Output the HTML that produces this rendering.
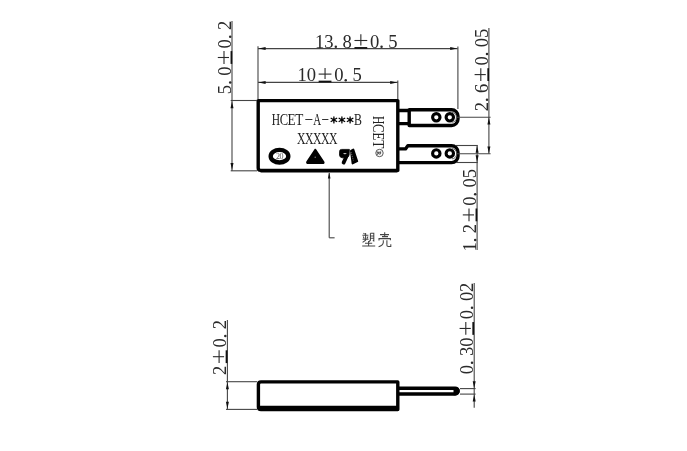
<!DOCTYPE html>
<html><head><meta charset="utf-8"><style>
html,body{margin:0;padding:0;background:#fff;width:687px;height:451px;overflow:hidden}
svg{display:block}
text{font-family:"Liberation Serif",serif}
</style></head><body>
<svg width="687" height="451" viewBox="0 0 687 451">
<rect width="687" height="451" fill="#fff"/>
<g opacity="0.999">
<path d="M258.2,103 V168 Q258.2,170.4 260.6,170.4 H397.8 V100.6 H258.2 Z" fill="none" stroke="#000" stroke-width="3.4" stroke-linejoin="round"/>
<path d="M260.5,171.5 H397.5" stroke="#000" stroke-width="2.2"/>
<path d="M399,110.5 H408 M399,123.6 H408" stroke="#000" stroke-width="3.3"/>
<path d="M409.2,109.75 H451.6 A6.4,6.4 0 0 1 458,116.15 V119.1 A6.4,6.4 0 0 1 451.6,125.5 H409.2 Z" fill="none" stroke="#000" stroke-width="3.4" stroke-linejoin="round"/>
<path d="M399,148.9 H405.5 L407.8,145.75 H451.6 A6.4,6.4 0 0 1 458,152.15 V156.25 A6.4,6.4 0 0 1 451.6,162.65 H399" fill="none" stroke="#000" stroke-width="3.4" stroke-linejoin="round"/>
<circle cx="436.3" cy="117.3" r="3.7" fill="none" stroke="#000" stroke-width="3.1"/>
<circle cx="449.8" cy="117.3" r="3.7" fill="none" stroke="#000" stroke-width="3.1"/>
<circle cx="436.3" cy="153.4" r="3.7" fill="none" stroke="#000" stroke-width="3.1"/>
<circle cx="449.8" cy="153.4" r="3.7" fill="none" stroke="#000" stroke-width="3.1"/>
<path d="M452,112.4 A4.4,4.4 0 0 1 456.4,116.8 V117.8 A4.4,4.4 0 0 1 452,122.2" fill="none" stroke="#555" stroke-width="0.9"/>
<path d="M452,148.6 A4.6,4.6 0 0 1 456.6,153.2 V154.2 A4.6,4.6 0 0 1 452,158.8" fill="none" stroke="#555" stroke-width="0.9"/>
<line x1="232" y1="21" x2="232" y2="171" stroke="#444" stroke-width="1.1"/>
<line x1="230.7" y1="100.5" x2="257" y2="100.5" stroke="#444" stroke-width="1.1"/>
<line x1="230.7" y1="170.8" x2="257" y2="170.8" stroke="#444" stroke-width="1.1"/>
<polygon points="232.00,101.30 230.50,108.30 233.50,108.30" fill="#111"/>
<polygon points="232.00,170.00 230.50,163.00 233.50,163.00" fill="#111"/>
<g transform="translate(231.2,94.1) rotate(-90)" font-size="18.6" fill="#2a2a2a"><text transform="translate(4.58,0) scale(1.0,1)" x="0" y="0" text-anchor="middle">5</text><circle cx="11.55" cy="-1.0" r="1.25" fill="#2a2a2a"/><text transform="translate(22.88,0) scale(1.0,1)" x="0" y="0" text-anchor="middle">0</text><line x1="30.200000000000003" y1="-7.2" x2="43.0" y2="-7.2" stroke="#2a2a2a" stroke-width="1.1"/><line x1="36.6" y1="-13.4" x2="36.6" y2="-2.2" stroke="#2a2a2a" stroke-width="1.1"/><line x1="30.200000000000003" y1="0.2" x2="43.0" y2="0.2" stroke="#111" stroke-width="1.7"/><text transform="translate(50.33,0) scale(1.0,1)" x="0" y="0" text-anchor="middle">0</text><circle cx="57.30" cy="-1.0" r="1.25" fill="#2a2a2a"/><text transform="translate(68.62,0) scale(1.0,1)" x="0" y="0" text-anchor="middle">2</text></g>
<line x1="258" y1="48.6" x2="457.7" y2="48.6" stroke="#444" stroke-width="1.1"/>
<line x1="258" y1="46.2" x2="258" y2="99" stroke="#444" stroke-width="1.1"/>
<line x1="457.9" y1="46.6" x2="457.9" y2="109" stroke="#444" stroke-width="1.1"/>
<polygon points="258.60,48.60 265.60,47.10 265.60,50.10" fill="#111"/>
<polygon points="457.20,48.60 450.20,47.10 450.20,50.10" fill="#111"/>
<g transform="translate(315.1,47.7)" font-size="18.6" fill="#2a2a2a"><text transform="translate(4.58,0) scale(1.0,1)" x="0" y="0" text-anchor="middle">1</text><text transform="translate(13.73,0) scale(1.0,1)" x="0" y="0" text-anchor="middle">3</text><circle cx="20.70" cy="-1.0" r="1.25" fill="#2a2a2a"/><text transform="translate(32.02,0) scale(1.0,1)" x="0" y="0" text-anchor="middle">8</text><line x1="39.35" y1="-7.2" x2="52.15" y2="-7.2" stroke="#2a2a2a" stroke-width="1.1"/><line x1="45.75" y1="-13.4" x2="45.75" y2="-2.2" stroke="#2a2a2a" stroke-width="1.1"/><line x1="39.35" y1="0.2" x2="52.15" y2="0.2" stroke="#111" stroke-width="1.7"/><text transform="translate(59.48,0) scale(1.0,1)" x="0" y="0" text-anchor="middle">0</text><circle cx="66.45" cy="-1.0" r="1.25" fill="#2a2a2a"/><text transform="translate(77.78,0) scale(1.0,1)" x="0" y="0" text-anchor="middle">5</text></g>
<line x1="258" y1="82.4" x2="397.8" y2="82.4" stroke="#444" stroke-width="1.1"/>
<line x1="397.8" y1="80.5" x2="397.8" y2="99" stroke="#444" stroke-width="1.1"/>
<polygon points="258.60,82.40 265.60,80.90 265.60,83.90" fill="#111"/>
<polygon points="397.20,82.40 390.20,80.90 390.20,83.90" fill="#111"/>
<g transform="translate(297.6,81.3)" font-size="18.6" fill="#2a2a2a"><text transform="translate(4.58,0) scale(1.0,1)" x="0" y="0" text-anchor="middle">1</text><text transform="translate(13.73,0) scale(1.0,1)" x="0" y="0" text-anchor="middle">0</text><line x1="21.050000000000004" y1="-7.2" x2="33.85" y2="-7.2" stroke="#2a2a2a" stroke-width="1.1"/><line x1="27.450000000000003" y1="-13.4" x2="27.450000000000003" y2="-2.2" stroke="#2a2a2a" stroke-width="1.1"/><line x1="21.050000000000004" y1="0.2" x2="33.85" y2="0.2" stroke="#111" stroke-width="1.7"/><text transform="translate(41.18,0) scale(1.0,1)" x="0" y="0" text-anchor="middle">0</text><circle cx="48.15" cy="-1.0" r="1.25" fill="#2a2a2a"/><text transform="translate(59.48,0) scale(1.0,1)" x="0" y="0" text-anchor="middle">5</text></g>
<line x1="457" y1="117.2" x2="490.6" y2="117.2" stroke="#444" stroke-width="1.1"/>
<line x1="457" y1="153.8" x2="490.6" y2="153.8" stroke="#444" stroke-width="1.1"/>
<line x1="456" y1="145.5" x2="477.8" y2="145.5" stroke="#444" stroke-width="1.1"/>
<line x1="456" y1="162.5" x2="477.8" y2="162.5" stroke="#444" stroke-width="1.1"/>
<line x1="488.9" y1="28" x2="488.9" y2="153.8" stroke="#444" stroke-width="1.1"/>
<polygon points="488.90,117.60 487.40,124.60 490.40,124.60" fill="#111"/>
<polygon points="488.90,153.40 487.40,146.40 490.40,146.40" fill="#111"/>
<g transform="translate(488.0,111.2) rotate(-90)" font-size="18.6" fill="#2a2a2a"><text transform="translate(4.58,0) scale(1.0,1)" x="0" y="0" text-anchor="middle">2</text><circle cx="11.55" cy="-1.0" r="1.25" fill="#2a2a2a"/><text transform="translate(22.88,0) scale(1.0,1)" x="0" y="0" text-anchor="middle">6</text><line x1="30.200000000000003" y1="-7.2" x2="43.0" y2="-7.2" stroke="#2a2a2a" stroke-width="1.1"/><line x1="36.6" y1="-13.4" x2="36.6" y2="-2.2" stroke="#2a2a2a" stroke-width="1.1"/><line x1="30.200000000000003" y1="0.2" x2="43.0" y2="0.2" stroke="#111" stroke-width="1.7"/><text transform="translate(50.33,0) scale(1.0,1)" x="0" y="0" text-anchor="middle">0</text><circle cx="57.30" cy="-1.0" r="1.25" fill="#2a2a2a"/><text transform="translate(68.62,0) scale(1.0,1)" x="0" y="0" text-anchor="middle">0</text><text transform="translate(77.78,0) scale(1.0,1)" x="0" y="0" text-anchor="middle">5</text></g>
<line x1="477.1" y1="145.5" x2="477.1" y2="250" stroke="#444" stroke-width="1.1"/>
<polygon points="477.10,145.80 475.60,152.80 478.60,152.80" fill="#111"/>
<polygon points="477.10,162.30 475.60,155.30 478.60,155.30" fill="#111"/>
<g transform="translate(476.2,251.5) rotate(-90)" font-size="18.6" fill="#2a2a2a"><text transform="translate(4.58,0) scale(1.0,1)" x="0" y="0" text-anchor="middle">1</text><circle cx="11.55" cy="-1.0" r="1.25" fill="#2a2a2a"/><text transform="translate(22.88,0) scale(1.0,1)" x="0" y="0" text-anchor="middle">2</text><line x1="30.200000000000003" y1="-7.2" x2="43.0" y2="-7.2" stroke="#2a2a2a" stroke-width="1.1"/><line x1="36.6" y1="-13.4" x2="36.6" y2="-2.2" stroke="#2a2a2a" stroke-width="1.1"/><line x1="30.200000000000003" y1="0.2" x2="43.0" y2="0.2" stroke="#111" stroke-width="1.7"/><text transform="translate(50.33,0) scale(1.0,1)" x="0" y="0" text-anchor="middle">0</text><circle cx="57.30" cy="-1.0" r="1.25" fill="#2a2a2a"/><text transform="translate(68.62,0) scale(1.0,1)" x="0" y="0" text-anchor="middle">0</text><text transform="translate(77.78,0) scale(1.0,1)" x="0" y="0" text-anchor="middle">5</text></g>
<line x1="329.2" y1="173" x2="329.2" y2="237.8" stroke="#444" stroke-width="1.1"/>
<line x1="329.2" y1="237.8" x2="334.6" y2="237.8" stroke="#444" stroke-width="1.1"/>
<polygon points="329.20,172.60 327.90,178.60 330.50,178.60" fill="#111"/>
<g transform="translate(0,125.4) rotate(0)" font-size="16.5" fill="#222"><text transform="translate(276.00,0) scale(0.7,1)" text-anchor="middle">H</text><text transform="translate(283.80,0) scale(0.76,1)" text-anchor="middle">C</text><text transform="translate(291.60,0) scale(0.8,1)" text-anchor="middle">E</text><text transform="translate(299.40,0) scale(0.8,1)" text-anchor="middle">T</text><text transform="translate(317.20,0) scale(0.66,1)" text-anchor="middle">A</text></g>
<g transform="translate(333.9,119.9)" stroke="#000" stroke-width="1.3" stroke-linecap="round"><line x1="0" y1="-3.0" x2="0" y2="3.0"/><line x1="-2.8" y1="-1.6" x2="2.8" y2="1.6"/><line x1="-2.8" y1="1.6" x2="2.8" y2="-1.6"/><circle r="1.35" fill="#000" stroke="none"/></g>
<g transform="translate(341.9,119.9)" stroke="#000" stroke-width="1.3" stroke-linecap="round"><line x1="0" y1="-3.0" x2="0" y2="3.0"/><line x1="-2.8" y1="-1.6" x2="2.8" y2="1.6"/><line x1="-2.8" y1="1.6" x2="2.8" y2="-1.6"/><circle r="1.35" fill="#000" stroke="none"/></g>
<g transform="translate(350.1,119.9)" stroke="#000" stroke-width="1.3" stroke-linecap="round"><line x1="0" y1="-3.0" x2="0" y2="3.0"/><line x1="-2.8" y1="-1.6" x2="2.8" y2="1.6"/><line x1="-2.8" y1="1.6" x2="2.8" y2="-1.6"/><circle r="1.35" fill="#000" stroke="none"/></g>
<line x1="305.3" y1="119.5" x2="312.4" y2="119.5" stroke="#333" stroke-width="1.0"/>
<line x1="322.1" y1="119.5" x2="328.4" y2="119.5" stroke="#333" stroke-width="1.0"/>
<g transform="translate(0,125.4) rotate(0)" font-size="16.5" fill="#222"><text transform="translate(358.00,0) scale(0.72,1)" text-anchor="middle">B</text></g>
<g transform="translate(0,143.8) rotate(0)" font-size="16.5" fill="#222"><text transform="translate(301.20,0) scale(0.71,1)" text-anchor="middle">X</text><text transform="translate(309.20,0) scale(0.71,1)" text-anchor="middle">X</text><text transform="translate(317.20,0) scale(0.71,1)" text-anchor="middle">X</text><text transform="translate(325.20,0) scale(0.71,1)" text-anchor="middle">X</text><text transform="translate(333.20,0) scale(0.71,1)" text-anchor="middle">X</text></g>
<g transform="translate(373.2,0) rotate(90)" font-size="17" fill="#222"><text transform="translate(120.10,0) scale(0.68,1)" text-anchor="middle">H</text><text transform="translate(128.30,0) scale(0.75,1)" text-anchor="middle">C</text><text transform="translate(136.30,0) scale(0.78,1)" text-anchor="middle">E</text><text transform="translate(144.40,0) scale(0.78,1)" text-anchor="middle">T</text></g>
<circle cx="379.5" cy="153" r="3.7" fill="none" stroke="#555" stroke-width="1.0"/>
<text transform="translate(379.3,153) rotate(90)" font-size="5.6" text-anchor="middle" dy="1.9" fill="#222" stroke="#444" stroke-width="0.25">R</text>
<ellipse cx="279.5" cy="156.2" rx="8.8" ry="6.3" fill="none" stroke="#000" stroke-width="4.4"/>
<text x="279.4" y="159.4" font-size="8" text-anchor="middle" fill="#555" letter-spacing="-0.5">20</text>
<path d="M315.3,149.5 L307,162 Q306.5,163.3 308.2,163.3 L322.6,163.3 Q324.3,163.3 323.6,162 Z" fill="#000" stroke="#000" stroke-width="1.6" stroke-linejoin="round"/>
<circle cx="315.2" cy="157.2" r="0.7" fill="#888"/>
<path d="M339.6,151.2 Q339.6,149.4 341.6,149.4 L349.4,149.4 L349.1,155 Q348.6,157.8 346,157.8 L342.2,157.8 Q339.8,157.6 339.5,155.2 Z" fill="#000" stroke="#000" stroke-width="0.8" stroke-linejoin="round"/>
<path d="M346.2,157 L343.6,162.6" stroke="#000" stroke-width="3.8" stroke-linecap="round"/>
<path d="M351,150.8 L353.3,149.5 L357.2,161.2 L352.6,163.4 Z" fill="#000" stroke="#000" stroke-width="2" stroke-linejoin="round"/>
<path d="M351,152 L353.4,160.5" stroke="#aaa" stroke-width="0.6" stroke-dasharray="1.2,0.8"/>
<ellipse cx="344.9" cy="153.6" rx="1.7" ry="0.6" fill="#ccc"/>
<path d="M363.5,233.2 L364.6,234.2 M362.4,235.2 H368.4 M365.6,233 V240.2 L362.6,242.4 M363.2,236.6 L364.2,238.4 M368,236.4 L367,238.4 M362.6,239.2 H368.6 M370.4,233.3 V240.2 L369.2,241.6 M370.4,233.3 H373.8 V241 L372.8,240.6 M370.4,236 H373.8 M370.4,238.3 H373.8 M368.6,241 V245.8 M365,243.3 H372.2 M362.2,245.9 H375.2 M384.7,232.3 V236.6 M380,234.6 H389 M382,236.6 H388 M379,240.4 V238.6 H390.4 V240.2 M383.3,240.2 V242.6 Q382.8,245.3 378.6,246.8 M386.9,240.2 V245.2 Q386.9,246.4 388.3,246.4 H390.8 V244.2" fill="none" stroke="#444" stroke-width="1.05"/>
<path d="M258.4,384.5 Q258.4,381.9 261,381.9 H397.8 V409.5 H261 Q258.4,409.5 258.4,407 Z" fill="none" stroke="#000" stroke-width="3.4" stroke-linejoin="round"/>
<path d="M259.5,408 H397" stroke="#000" stroke-width="4.5"/>
<path d="M399,388.2 H455.2 A2.9,2.9 0 0 1 455.2,394 H399" fill="none" stroke="#000" stroke-width="3.4"/>
<path d="M453.5,386.9 H455.6 A4.15,4.15 0 0 1 455.6,395.2 H453.5 Z" fill="#000"/>
<line x1="227.4" y1="320" x2="227.4" y2="409.4" stroke="#444" stroke-width="1.1"/>
<line x1="226" y1="381.7" x2="257" y2="381.7" stroke="#444" stroke-width="1.1"/>
<line x1="226" y1="409.4" x2="257" y2="409.4" stroke="#444" stroke-width="1.1"/>
<polygon points="227.40,382.30 225.90,389.30 228.90,389.30" fill="#111"/>
<polygon points="227.40,408.80 225.90,401.80 228.90,401.80" fill="#111"/>
<g transform="translate(226.3,375.0) rotate(-90)" font-size="18.6" fill="#2a2a2a"><text transform="translate(4.58,0) scale(1.0,1)" x="0" y="0" text-anchor="middle">2</text><line x1="11.9" y1="-7.2" x2="24.700000000000003" y2="-7.2" stroke="#2a2a2a" stroke-width="1.1"/><line x1="18.3" y1="-13.4" x2="18.3" y2="-2.2" stroke="#2a2a2a" stroke-width="1.1"/><line x1="11.9" y1="0.2" x2="24.700000000000003" y2="0.2" stroke="#111" stroke-width="1.7"/><text transform="translate(32.02,0) scale(1.0,1)" x="0" y="0" text-anchor="middle">0</text><circle cx="39.00" cy="-1.0" r="1.25" fill="#2a2a2a"/><text transform="translate(50.33,0) scale(1.0,1)" x="0" y="0" text-anchor="middle">2</text></g>
<line x1="460" y1="388.6" x2="475.6" y2="388.6" stroke="#444" stroke-width="1.1"/>
<line x1="460" y1="394.1" x2="475.6" y2="394.1" stroke="#444" stroke-width="1.1"/>
<line x1="474.2" y1="283" x2="474.2" y2="407.7" stroke="#444" stroke-width="1.1"/>
<polygon points="474.20,388.30 472.70,381.30 475.70,381.30" fill="#111"/>
<polygon points="474.20,394.40 472.70,401.40 475.70,401.40" fill="#111"/>
<g transform="translate(473.0,374.2) rotate(-90)" font-size="18.6" fill="#2a2a2a"><text transform="translate(4.58,0) scale(1.0,1)" x="0" y="0" text-anchor="middle">0</text><circle cx="11.55" cy="-1.0" r="1.25" fill="#2a2a2a"/><text transform="translate(22.88,0) scale(1.0,1)" x="0" y="0" text-anchor="middle">3</text><text transform="translate(32.02,0) scale(1.0,1)" x="0" y="0" text-anchor="middle">0</text><line x1="39.35" y1="-7.2" x2="52.15" y2="-7.2" stroke="#2a2a2a" stroke-width="1.1"/><line x1="45.75" y1="-13.4" x2="45.75" y2="-2.2" stroke="#2a2a2a" stroke-width="1.1"/><line x1="39.35" y1="0.2" x2="52.15" y2="0.2" stroke="#111" stroke-width="1.7"/><text transform="translate(59.48,0) scale(1.0,1)" x="0" y="0" text-anchor="middle">0</text><circle cx="66.45" cy="-1.0" r="1.25" fill="#2a2a2a"/><text transform="translate(77.78,0) scale(1.0,1)" x="0" y="0" text-anchor="middle">0</text><text transform="translate(86.92,0) scale(1.0,1)" x="0" y="0" text-anchor="middle">2</text></g>
</g>
</svg></body></html>
